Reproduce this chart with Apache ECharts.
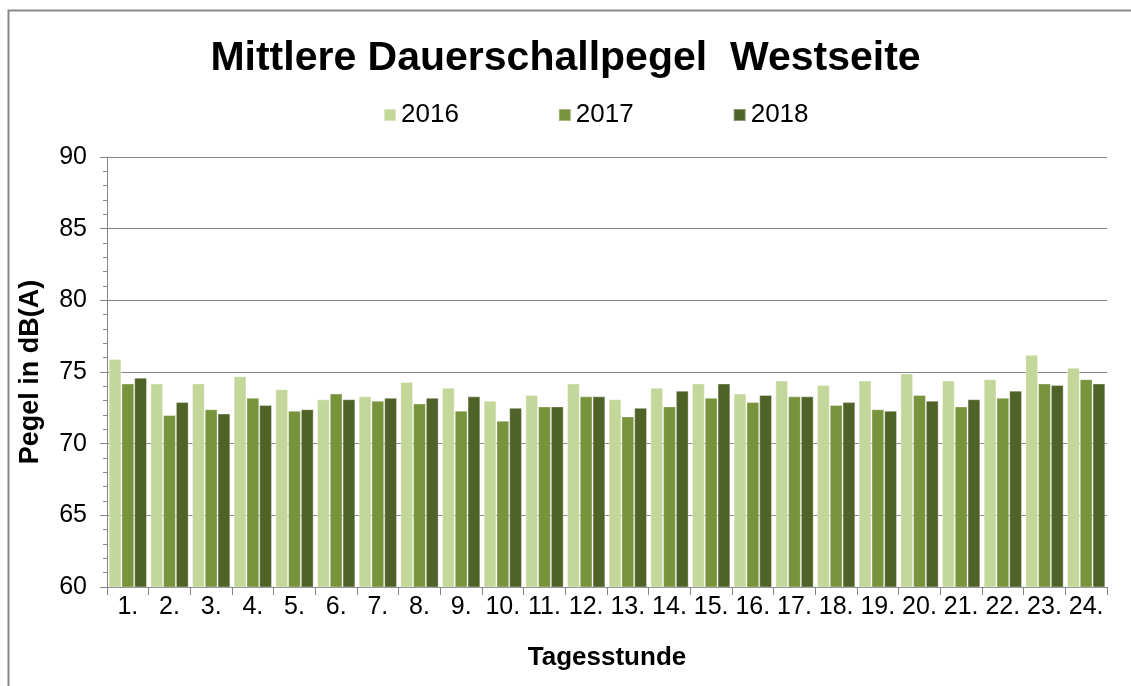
<!DOCTYPE html>
<html>
<head>
<meta charset="utf-8">
<script src="https://cdn.jsdelivr.net/npm/echarts@6/dist/echarts.min.js"></script>
<style>
    html, body {
        margin: 0;
        padding: 0;
        background: #fff;
    }
    #chart {
        width: 1131px;
        height: 686px;
    }
</style>
</head>
<body>
<div id="chart"></div>
<script>
    // Tagesstunden 1. bis 24.
    const hours = ['1.', '2.', '3.', '4.', '5.', '6.', '7.', '8.', '9.', '10.', '11.', '12.',
        '13.', '14.', '15.', '16.', '17.', '18.', '19.', '20.', '21.', '22.', '23.', '24.'];
    const years = ['2016', '2017', '2018'];
    const level2016 = [75.9, 74.2, 74.2, 74.7, 73.8, 73.1, 73.3, 74.3, 73.9, 73.0, 73.4, 74.2,
        73.1, 73.9, 74.2, 73.5, 74.4, 74.1, 74.4, 74.9, 74.4, 74.5, 76.2, 75.3];
    const level2017 = [74.2, 72.0, 72.4, 73.2, 72.3, 73.5, 73.0, 72.8, 72.3, 71.6, 72.6, 73.3,
        71.9, 72.6, 73.2, 72.9, 73.3, 72.7, 72.4, 73.4, 72.6, 73.2, 74.2, 74.5];
    const level2018 = [74.6, 72.9, 72.1, 72.7, 72.4, 73.1, 73.2, 73.2, 73.3, 72.5, 72.6, 73.3,
        72.5, 73.7, 74.2, 73.4, 73.3, 72.9, 72.3, 73.0, 73.1, 73.7, 74.1, 74.2];
    const yearColors = ['#C4D79B', '#77933C', '#4F6228'];

    const font = 'Liberation Sans, Arial, sans-serif';
    const chart = echarts.init(document.getElementById('chart'));

    const values = [level2016, level2017, level2018];
    const series = years.map(function (y, i) {
        return {
            name: y,
            type: 'bar',
            data: values[i],
            barGap: '0%',
            barCategoryGap: '8%',
            itemStyle: {
                color: yearColors[i],
                borderColor: 'rgba(255,255,255,0.35)',
                borderWidth: 1
            },
            animation: false
        };
    });

    const option = {
        backgroundColor: '#fff',
        graphic: [{
            type: 'rect',
            left: 6,
            top: 8,
            shape: {width: 1200, height: 720},
            style: {fill: 'none', stroke: '#888', lineWidth: 2},
            silent: true
        }],
        title: {
            text: 'Mittlere Dauerschallpegel  Westseite',
            left: 'center',
            top: 33,
            textStyle: {
                fontFamily: font,
                fontSize: 41,
                fontWeight: 'bold',
                color: '#000'
            }
        },
        legend: {
            top: 97,
            left: 378,
            itemWidth: 12,
            itemHeight: 12,
            itemGap: 99,
            icon: 'rect',
            textStyle: {fontFamily: font, fontSize: 26, color: '#000'},
            data: years
        },
        grid: {
            left: 107,
            right: 24,
            top: 157,
            bottom: 99,
            containLabel: false
        },
        xAxis: {
            type: 'category',
            data: hours,
            name: 'Tagesstunde',
            nameLocation: 'middle',
            nameGap: 58,
            nameTextStyle: {fontFamily: font, fontSize: 26, fontWeight: 'bold', color: '#000'},
            axisLine: {lineStyle: {color: '#868686', width: 1}},
            axisTick: {show: true, length: 8, lineStyle: {color: '#868686'}},
            axisLabel: {fontFamily: font, fontSize: 25, color: '#000', margin: 8, interval: 0},
            splitLine: {show: false}
        },
        yAxis: {
            type: 'value',
            min: 60,
            max: 90,
            interval: 5,
            name: 'Pegel in dB(A)',
            nameLocation: 'middle',
            nameGap: 63,
            nameTextStyle: {fontFamily: font, fontSize: 27, fontWeight: 'bold', color: '#000'},
            axisLine: {show: true, lineStyle: {color: '#868686', width: 1}},
            axisTick: {show: true, length: 7, lineStyle: {color: '#868686'}},
            minorTick: {show: true, splitNumber: 5, length: 4, lineStyle: {color: '#868686'}},
            axisLabel: {fontFamily: font, fontSize: 25, color: '#000', margin: 20},
            splitLine: {lineStyle: {color: '#868686', width: 1}}
        },
        series: series
    };
    chart.setOption(option);
</script>
</body>
</html>
